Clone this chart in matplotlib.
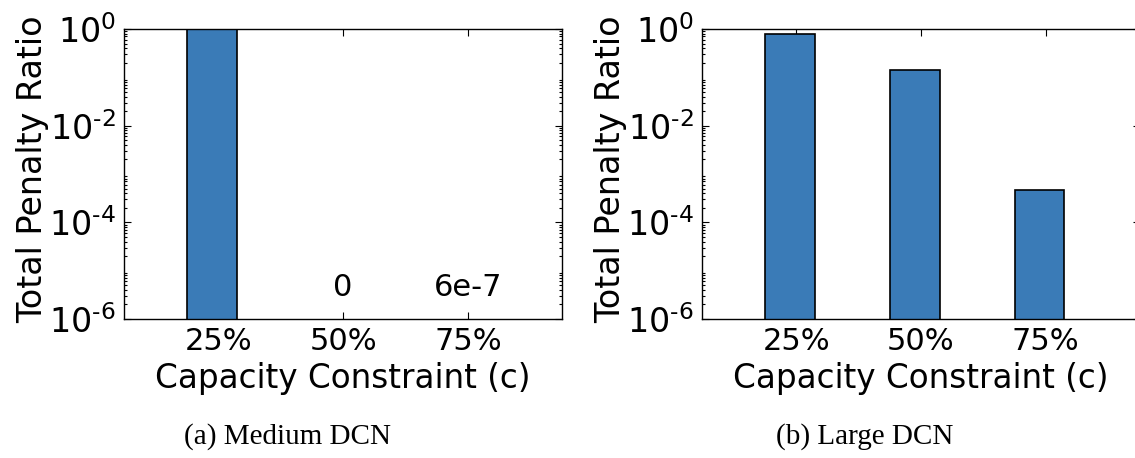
import numpy as np
import matplotlib.pyplot as plt
from matplotlib.ticker import LogLocator, FixedLocator, FuncFormatter, NullFormatter

# penalty ratio per capacity constraint
categories = ["25%", "50%", "75%"]
medium_dcn = [1.0, 0.0, 6e-7]
medium_notes = ["", "0", "6e-7"]
large_dcn = [0.80, 0.139, 4.6e-4]
yticks = [1e-6, 1e-4, 1e-2, 1e0]

plt.rcParams['mathtext.default'] = 'regular'
plt.rcParams['font.family'] = 'DejaVu Sans'

bar_color = "#3a7bb7"
fs = 22

fig = plt.figure(figsize=(11.35, 4.58), dpi=100)
ax1 = fig.add_axes([0.1093, 0.3035, 0.3859, 0.6332])
ax2 = fig.add_axes([0.6185, 0.3035, 0.3859, 0.6332])

x = np.arange(len(categories))

def pow_label(v, pos):
    e = int(round(np.log10(v)))
    if e < 0:
        return r"$10^{\text{-}%d}$" % -e
    return r"$10^{%d}$" % e

def setup(ax, values):
    # bars below the axis floor are not drawn, only labelled
    shown = [v if v >= 1e-6 else 0 for v in values]
    ax.bar(x - 0.05, shown, width=0.4, color=bar_color, edgecolor="black",
           linewidth=1.2, zorder=2)
    ax.set_yscale("log")
    ax.set_ylim(1e-6, 1e0)
    ax.set_xlim(-0.755, 2.755)
    ax.set_xticks(x)
    ax.set_xticklabels(categories, fontsize=fs)
    ax.yaxis.set_major_locator(FixedLocator(yticks))
    ax.yaxis.set_major_formatter(FuncFormatter(pow_label))
    ax.yaxis.set_minor_locator(LogLocator(base=10, subs=np.arange(2, 10), numticks=20))
    ax.yaxis.set_minor_formatter(NullFormatter())
    ax.tick_params(axis="both", which="both", direction="in", top=True, right=True,
                   width=0.8)
    ax.tick_params(axis="x", which="major", labelsize=fs, length=5, pad=6)
    ax.tick_params(axis="y", which="major", labelsize=24, length=5, pad=6)
    ax.tick_params(axis="y", which="minor", length=2.5)
    ax.set_xlabel("Capacity Constraint (c)", fontsize=23.5, labelpad=4)
    ax.set_ylabel("Total Penalty Ratio", fontsize=24)
    ax.yaxis.set_label_coords(-0.172, 0.515)
    for s in ax.spines.values():
        s.set_linewidth(1.0)

setup(ax1, medium_dcn)
setup(ax2, large_dcn)

# value notes for the near-zero medium DCN results
for xi, note in zip(x, medium_notes):
    if note:
        ax1.text(xi, 4.5e-6, note, ha="center", va="center", fontsize=fs)

fig.text(287 / 1135, 1 - 437 / 458, "(a) Medium DCN", ha="center", va="center",
         fontsize=21, family="Liberation Serif")
fig.text(865 / 1135, 1 - 437 / 458, "(b) Large DCN", ha="center", va="center",
         fontsize=21, family="Liberation Serif")

fig.savefig("out.png", dpi=100)
